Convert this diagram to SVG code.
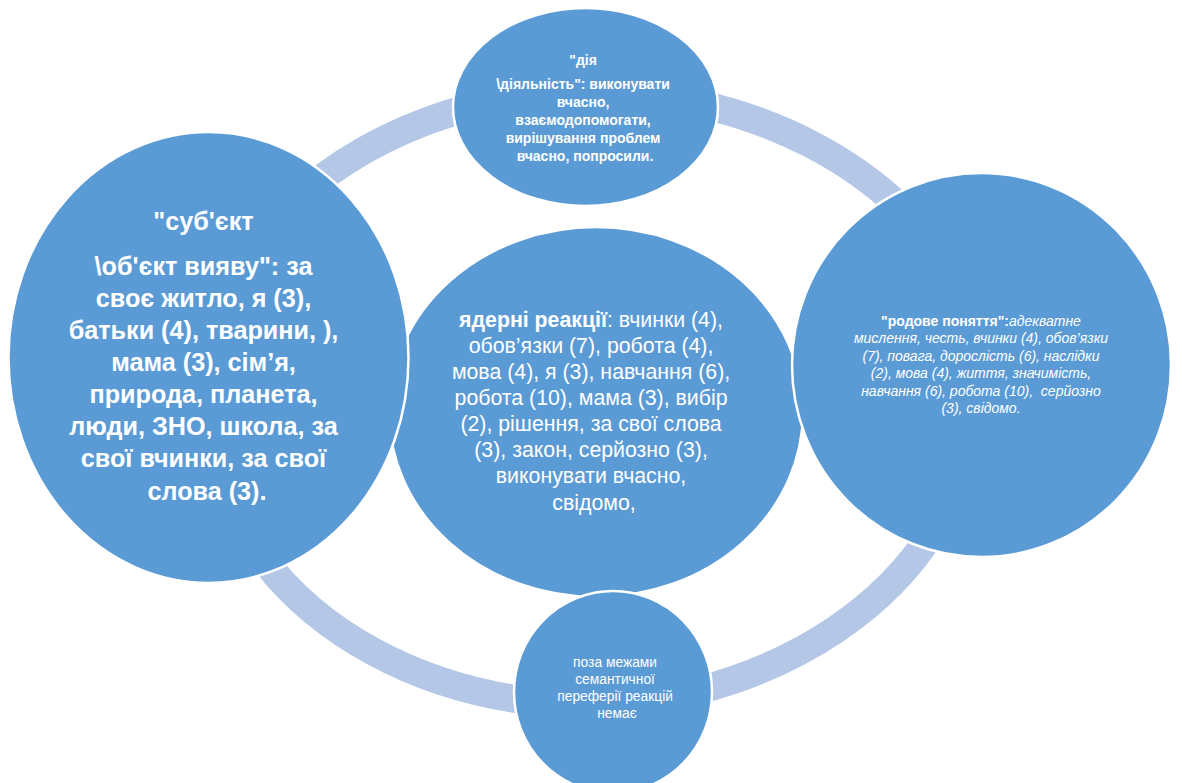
<svg xmlns="http://www.w3.org/2000/svg" width="1182" height="783" viewBox="0 0 1182 783">
<style>
.ring{fill:none;stroke:#B4C7E7;stroke-width:28;stroke-linecap:butt}
.node{fill:#5B9BD5;stroke:#FFFFFF;stroke-width:2.5}
.t{fill:#FFFFFF;font-family:"Liberation Sans",Arial,sans-serif;text-anchor:middle}
.b{font-weight:bold}
.i{font-style:italic}
</style>
<rect width="1182" height="783" fill="#FFFFFF"/>
<g id="connectors">
<path class="ring" d="M308,189 A405,308 0 0 1 475,106"/>
<path class="ring" d="M700,104 A405,308 0 0 1 900,207"/>
<path class="ring" d="M933,531 A405,308 0 0 1 696,691"/>
<path class="ring" d="M530,701 A380,300 0 0 1 261,556"/>
</g>
<g id="node-center">
<ellipse class="node" cx="596" cy="412" rx="207" ry="185"/>
<text class="t" font-size="21.3">
<tspan x="594" y="327"><tspan class="b">ядерні реакції</tspan>: вчинки (4),</tspan>
<tspan x="594" y="353">обов’язки (7), робота (4),</tspan>
<tspan x="594" y="379">мова (4), я (3), навчання (6),</tspan>
<tspan x="594" y="405">робота (10), мама (3), вибір</tspan>
<tspan x="594" y="431">(2), рішення, за свої слова</tspan>
<tspan x="594" y="457">(3), закон, серйозно (3),</tspan>
<tspan x="594" y="483">виконувати вчасно,</tspan>
<tspan x="594" y="510">свідомо,</tspan>
</text>
</g>
<g id="node-top">
<ellipse class="node" cx="585.5" cy="107" rx="132.5" ry="99"/>
<text class="t b" font-size="14">
<tspan x="585" y="65">"дія</tspan>
<tspan x="585" y="89">\діяльність": виконувати</tspan>
<tspan x="585" y="107">вчасно,</tspan>
<tspan x="585" y="125">взаємодопомогати,</tspan>
<tspan x="585" y="143">вирішування проблем</tspan>
<tspan x="585" y="161">вчасно, попросили.</tspan>
</text>
</g>
<g id="node-left">
<ellipse class="node" cx="208.5" cy="357.5" rx="200" ry="225.5"/>
<text class="t b" font-size="25.2">
<tspan x="207" y="230">"суб'єкт</tspan>
<tspan x="207" y="275">\об'єкт вияву": за</tspan>
<tspan x="207" y="307">своє житло, я (3),</tspan>
<tspan x="207" y="339">батьки (4), тварини, ),</tspan>
<tspan x="207" y="371">мама (3), сім’я,</tspan>
<tspan x="207" y="403">природа, планета,</tspan>
<tspan x="207" y="435">люди, ЗНО, школа, за</tspan>
<tspan x="207" y="467">свої вчинки, за свої</tspan>
<tspan x="207" y="500">слова (3).</tspan>
</text>
</g>
<g id="node-right">
<ellipse class="node" cx="981.5" cy="365" rx="189.5" ry="192"/>
<text class="t" font-size="14" xml:space="preserve"><tspan x="981" y="326"><tspan class="b">"родове поняття":</tspan><tspan class="i">адекватне</tspan></tspan><tspan class="i" x="981" y="343">мислення, честь, вчинки (4), обов’язки</tspan><tspan class="i" x="981" y="361">(7), повага, дорослість (6), наслідки</tspan><tspan class="i" x="981" y="378">(2), мова (4), життя, значимість,</tspan><tspan class="i" x="981" y="396">навчання (6), робота (10),  серйозно</tspan><tspan class="i" x="981" y="413">(3), свідомо.</tspan></text>
</g>
<g id="node-bottom">
<ellipse class="node" cx="613" cy="692" rx="99" ry="101"/>
<text class="t" font-size="13.8">
<tspan x="617" y="667">поза межами</tspan>
<tspan x="617" y="684">семантичної</tspan>
<tspan x="617" y="701">переферії реакцій</tspan>
<tspan x="617" y="718">немає</tspan>
</text>
</g>
</svg>
